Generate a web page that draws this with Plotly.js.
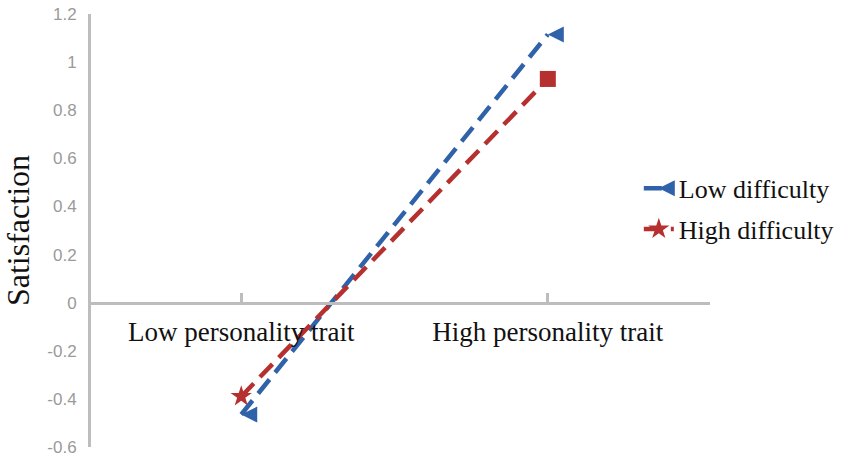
<!DOCTYPE html>
<html>
<head>
<meta charset="utf-8">
<script src="https://cdn.plot.ly/plotly-3.0.1.min.js"></script>
<style>
  html, body {margin: 0; padding: 0; background: #fff;}
  #chart {width: 851px; height: 461px;}
</style>
</head>
<body>
<div id="chart"></div>
<script>
// categories on the x axis
var categories = ['Low personality trait', 'High personality trait'];
var xIndex = [0, 1];

// satisfaction values
var lowDifficulty = [-0.465, 1.115];
var highDifficulty = [-0.39, 0.93];

var seriesNames = ['Low difficulty', 'High difficulty'];

var yTicks = [-0.6, -0.4, -0.2, 0, 0.2, 0.4, 0.6, 0.8, 1, 1.2];
var yTickText = ['-0.6', '-0.4', '-0.2', '0', '0.2', '0.4', '0.6', '0.8', '1', '1.2'];

var blue = '#2f62a8';
var red = '#b5302e';
var axisGray = '#bdbdbd';
var serif = 'Liberation Serif, Times New Roman, serif';

var data = [
	{
		x: xIndex,
		y: lowDifficulty,
		type: 'scatter',
		mode: 'lines+markers',
		name: seriesNames[0],
		legendgroup: 'a',
		line: {color: blue, width: 4.5, dash: '18px,9px'},
		marker: {color: blue, size: 16, symbol: 'arrow-left'},
	},
	{
		x: xIndex,
		y: highDifficulty,
		type: 'scatter',
		mode: 'lines+markers',
		name: seriesNames[1],
		legendgroup: 'b',
		line: {color: red, width: 4.5, dash: '18px,9px'},
		marker: {color: red, size: 16, symbol: ['star', 'square']},
	}
];

var layout = {
	width: 851,
	height: 461,
	margin: {l: 91, r: 138, t: 14, b: 14, pad: 0},
	paper_bgcolor: '#fff',
	plot_bgcolor: '#fff',
	showlegend: true,
	legend: {
		x: 0.885, y: 0.55,
		xanchor: 'left', yanchor: 'middle',
		traceorder: 'grouped',
		tracegroupgap: 4,
		font: {family: serif, size: 26, color: '#111'},
		bgcolor: 'rgba(0,0,0,0)'
	},
	xaxis: {
		range: [-0.49, 1.529],
		tickmode: 'array',
		tickvals: xIndex,
		ticktext: categories,
		anchor: 'free',
		position: 1 / 3,
		showline: true,
		linecolor: axisGray,
		linewidth: 3,
		showgrid: false,
		zeroline: false,
		ticks: 'inside',
		ticklen: 9,
		tickwidth: 3,
		tickcolor: axisGray,
		ticklabelstandoff: 4,
		tickfont: {family: serif, size: 27, color: '#111'},
		fixedrange: true
	},
	yaxis: {
		range: [-0.6, 1.2],
		tickmode: 'array',
		tickvals: yTicks,
		ticktext: yTickText,
		showline: true,
		linecolor: axisGray,
		linewidth: 3,
		showgrid: false,
		zeroline: false,
		ticks: '',
		ticklabelstandoff: 8,
		tickfont: {family: 'Liberation Sans, Arial, sans-serif', size: 17, color: '#9a9a9a'},
		title: {
			text: 'Satisfaction',
			standoff: 16,
			font: {family: serif, size: 32, color: '#111'}
		},
		fixedrange: true
	}
};

Plotly.newPlot('chart', data, layout, {displayModeBar: false, responsive: false});
</script>
</body>
</html>
